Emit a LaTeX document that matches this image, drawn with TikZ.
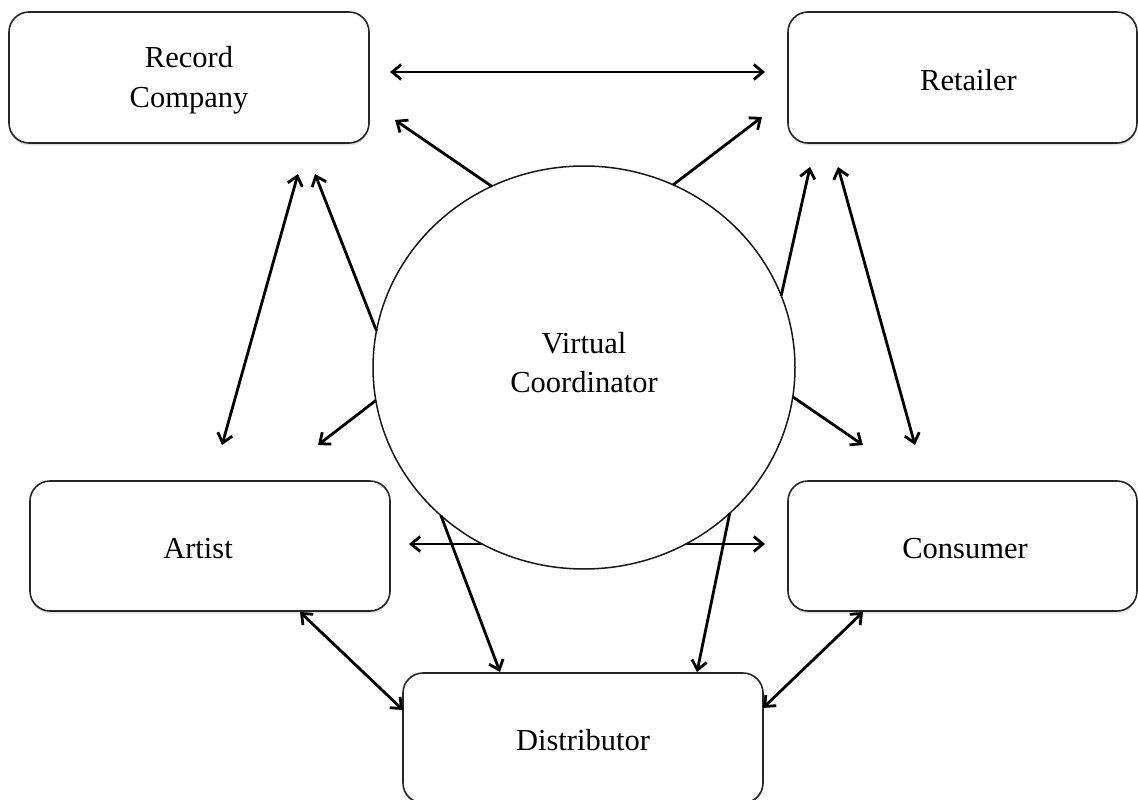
\documentclass[tikz,border=0pt]{standalone}
\usepackage{fontspec}
\setmainfont{Liberation Serif}
\usetikzlibrary{arrows.meta,calc,shapes.geometric,shadows,backgrounds}
\begin{document}
\begin{tikzpicture}[x=1pt,y=-1pt,
  box/.style={draw=black!85, line width=1.6pt, rounded corners=20pt, fill=white,
    minimum height=130pt, inner sep=0pt, outer sep=0pt, align=center, text=black,
    text height=26pt, font=\fontsize{30.5}{40}\selectfont,
    drop shadow={opacity=0.22, shadow xshift=0pt, shadow yshift=-2.5pt}},
  hub/.style={ellipse, draw=black!90, line width=1.5pt, fill=white,
    minimum width=422pt, minimum height=403pt, inner sep=0pt, outer sep=0pt,
    align=center, text=black, text depth=10pt, font=\fontsize{30.5}{39}\selectfont},
  barb/.tip={Straight Barb[length=9pt,width=15pt]},
  link/.style={line width=2.8pt, -barb},
  dlink/.style={line width=2.8pt, barb-barb}
]
\useasboundingbox (0,0) rectangle (1138,800);

\node[box, minimum width=360pt, minimum height=131pt, text height=67pt] (rc) at (189,77.5) {Record\\Company};
\node[box, minimum width=349pt, minimum height=131pt] (ret) at (962.5,77.5) {\hspace*{12pt}Retailer};
\node[box, minimum width=360pt] (art) at (210,546) {Artist\hspace*{24pt}};
\node[box, minimum width=349pt] (con) at (962.5,546) {\hspace*{5pt}Consumer};
\node[box, minimum width=360pt] (dis) at (583,738) {Distributor};
\node[hub] (vc) at (584,367.5) {Virtual\\Coordinator};

\draw[dlink] ($(rc.east)+(21,-5.5)$) -- ($(ret.west)+(-23,-5.5)$);
\draw[link] (vc.117) -- ($(rc.south east)+(26,-23)$);
\draw[link] (vc.64.5) -- ($(ret.south west)+(-26,-26)$);
\draw[dlink] ($(rc.south east)+(-71,31)$) -- ($(art.north)+(12,-36)$);
\draw[link] (vc.170.6) -- ($(rc.south east)+(-54,31)$);
\draw[link] (vc.189.5) -- ($(art.north east)+(-72,-36)$);
\draw[dlink] ($(ret.south west)+(50,24)$) -- ($(con.north west)+(127,-36)$);
\draw[link] (vc.20.3) -- ($(ret.south west)+(22,24)$);
\draw[link] (vc.352.2) -- ($(con.north west)+(75,-36)$);
\begin{scope}[on background layer]
\draw[dlink] ($(art.east)+(19,-2)$) -- ($(con.west)+(-23,-2)$);
\end{scope}
\draw[link] (vc.226.9) -- ($(dis.north west)+(97,-1)$);
\draw[link] (vc.315.7) -- ($(dis.north east)+(-66,-1)$);
\draw[dlink] ($(art.south)+(90,1)$) -- ($(dis.west)+(0,-28)$);
\draw[dlink] ($(con.south west)+(75,1)$) -- ($(dis.east)+(0,-30)$);
\end{tikzpicture}
\end{document}
